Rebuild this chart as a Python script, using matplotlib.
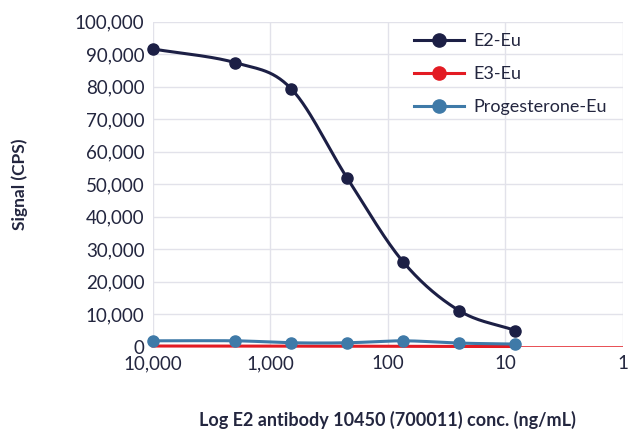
import numpy as np
import matplotlib
matplotlib.use("Agg")
import matplotlib.pyplot as plt
from matplotlib.ticker import FuncFormatter, FixedLocator

# E2 antibody concentration (ng/mL)
conc = [10000, 2000, 666.7, 222.2, 74.1, 24.7, 8.23]
e2_eu = [91600, 87400, 79400, 51900, 26100, 11100, 5000]
e3_eu = [250, 250, 200, 200, 150, 120, 100]
prog_eu = [1850, 1850, 1250, 1250, 1850, 1150, 850]

x_ticks = [10000, 1000, 100, 10, 1]
x_labels = ["10,000", "1,000", "100", "10", "1"]

navy = "#1c1f45"
red = "#e31b23"
blue = "#3f7aa8"
grid_col = "#e2e2ea"
text_col = "#23263f"

plt.rcParams['font.family'] = ['Lato', 'DejaVu Sans']


def smooth(xs, ys, n=30):
    # catmull-rom through the points, in log10(x) space
    lx = np.log10(xs)
    ys = np.asarray(ys, dtype=float)
    px = np.concatenate([[2 * lx[0] - lx[1]], lx, [2 * lx[-1] - lx[-2]]])
    py = np.concatenate([[2 * ys[0] - ys[1]], ys, [2 * ys[-1] - ys[-2]]])
    out_x, out_y = [], []
    t = np.linspace(0, 1, n)
    for i in range(1, len(px) - 2):
        for p, out in ((px, out_x), (py, out_y)):
            p0, p1, p2, p3 = p[i - 1], p[i], p[i + 1], p[i + 2]
            seg = 0.5 * ((2 * p1) + (-p0 + p2) * t
                         + (2 * p0 - 5 * p1 + 4 * p2 - p3) * t ** 2
                         + (-p0 + 3 * p1 - 3 * p2 + p3) * t ** 3)
            out.extend(seg)
    return 10 ** np.array(out_x), np.array(out_y)


fig = plt.figure(figsize=(6.37, 4.33), dpi=100)
ax = fig.add_axes([0.240, 0.199, 0.738, 0.751])

series = [
    ("E2-Eu", e2_eu, navy, 3, True),
    ("E3-Eu", e3_eu, red, 2, False),   # markers hidden under the baseline in the original
    ("Progesterone-Eu", prog_eu, blue, 4, True),
]
for name, vals, col, z, show_markers in series:
    sx, sy = smooth(conc, vals)
    ax.plot(sx, sy, color=col, lw=2.2, zorder=z, clip_on=False)
    if show_markers:
        ax.plot(conc, vals, "o", color=col, ms=8, zorder=z, clip_on=False)
    ax.plot([], [], "-o", color=col, lw=2.2, ms=9.5, label=name)

ax.axhline(0, color=red, lw=1.8, zorder=2)

ax.set_xscale("log")
ax.set_xlim(10000, 1)
ax.set_ylim(0, 100000)
ax.xaxis.set_major_locator(FixedLocator(x_ticks))
ax.xaxis.set_minor_locator(FixedLocator([]))
ax.set_xticklabels(x_labels)
ax.set_yticks(np.arange(0, 100001, 10000))
ax.yaxis.set_major_formatter(FuncFormatter(lambda v, p: f"{int(v):,}"))

ax.grid(True, color=grid_col, lw=1.0)
ax.set_axisbelow(True)
for s in ax.spines.values():
    s.set_visible(False)
ax.tick_params(length=0, labelsize=13.5, labelcolor=text_col, pad=6)

ax.set_ylabel("Signal (CPS)", fontsize=12.5, fontweight="bold", color=text_col, labelpad=34)
ax.set_xlabel("Log E2 antibody 10450 (700011) conc. (ng/mL)", fontsize=13,
              fontweight="bold", color=text_col, labelpad=28)

leg = ax.legend(loc="upper right", bbox_to_anchor=(1.0, 1.015), frameon=False,
                fontsize=13, handlelength=2.8, handletextpad=0.5,
                labelspacing=0.95, labelcolor=text_col)

fig.savefig("out.png", dpi=100)
